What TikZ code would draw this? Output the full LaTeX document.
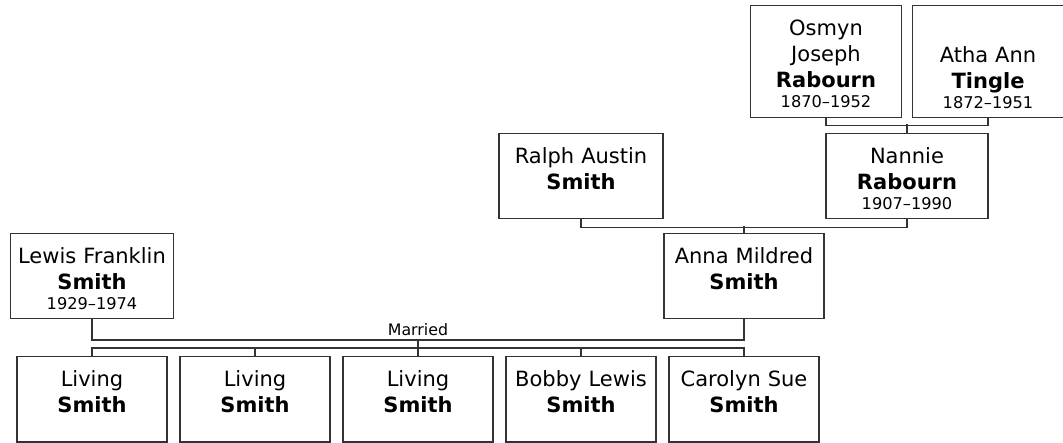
\documentclass[tikz,border=0pt]{standalone}
\usepackage{fontspec}
\setmainfont{DejaVu Sans}
\usepackage{xcolor}
\usetikzlibrary{positioning}

\definecolor{linegray}{HTML}{333333}
\newcommand{\yrs}[1]{{\fontsize{16.2}{19}\selectfont #1}}

\tikzset{
  person/.style={draw=linegray, line width=1.5pt, align=center, inner sep=0pt,
    anchor=north, minimum width=162pt, text width=160pt, text height=30pt, text depth=55pt,
    font=\fontsize{21}{26}\selectfont},
  kid/.style={person, minimum width=150pt, text width=148pt},
  elder/.style={person, minimum width=151pt, text width=149pt, text depth=82pt},
  link/.style={draw=linegray, line width=1.5pt}
}

\begin{document}
\begin{tikzpicture}[x=1pt, y=-1pt]
    \useasboundingbox (0,0) rectangle (1063,443);

    % grandparents
    \node[elder] (osmyn) at (826,5) {Osmyn\\Joseph\\\textbf{Rabourn}\\[-6pt]\yrs{1870--1952}};
    \node[elder, text height=57pt, text depth=55pt] (atha) at (988,5) {Atha Ann\\\textbf{Tingle}\\[-6pt]\yrs{1872--1951}};

    % parents of Anna
    \node[person, minimum width=164pt] (ralph) at (581,133) {Ralph Austin\\\textbf{Smith}};
    \node[person] (nannie) at (907,133) {Nannie\\\textbf{Rabourn}\\[-6pt]\yrs{1907--1990}};

    % couple
    \node[person, minimum width=163pt] (lewis) at (92,233) {Lewis Franklin\\\textbf{Smith}\\[-6pt]\yrs{1929--1974}};
    \node[person, minimum width=160pt, text width=158pt] (anna) at (744,233) {Anna Mildred\\\textbf{Smith}};

    % children
    \node[kid] (kid1) at (92,356) {Living\\\textbf{Smith}};
    \node[kid] (kid2) at (255,356) {Living\\\textbf{Smith}};
    \node[kid] (kid3) at (418,356) {Living\\\textbf{Smith}};
    \node[kid] (kid4) at (581,356) {Bobby Lewis\\\textbf{Smith}};
    \node[kid] (kid5) at (744,356) {Carolyn Sue\\\textbf{Smith}};

    \coordinate (married) at (418,340);
    \node[anchor=base, inner sep=0pt, font=\fontsize{15.8}{19}\selectfont] (mlabel) at (418,336) {Married};

    % connectors
    \draw[link] (osmyn.south) -- ++(0,7) -| (atha.south);
    \draw[link] (nannie.north) -- ++(0,-9);
    \draw[link] (ralph.south) -- ++(0,8) -| (nannie.south);
    \draw[link] (anna.north) -- ++(0,-7);
    \draw[link] (lewis.south) |- (married) -| (anna.south);
    \draw[link] (married) -- ++(0,8);
    \draw[link] (kid1.north) -- ++(0,-8) -| (kid5.north);
    \draw[link] (kid2.north) -- ++(0,-8);
    \draw[link] (kid3.north) -- ++(0,-8);
    \draw[link] (kid4.north) -- ++(0,-8);
\end{tikzpicture}
\end{document}
